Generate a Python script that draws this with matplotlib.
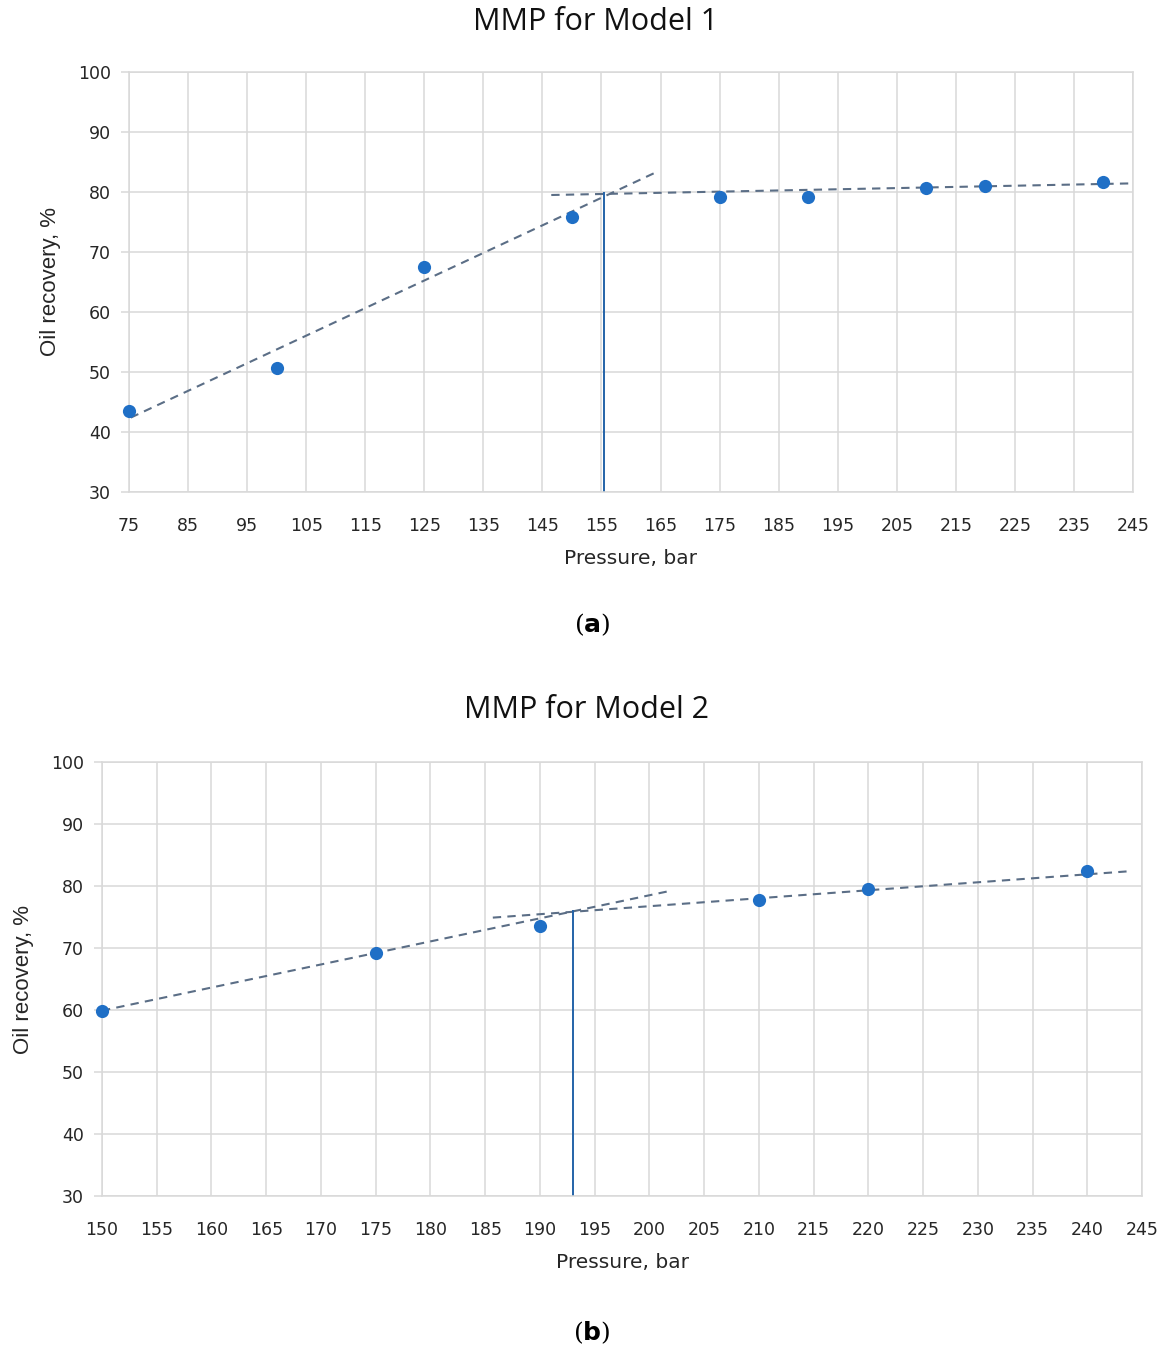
import numpy as np
import matplotlib
matplotlib.use("Agg")
import matplotlib.pyplot as plt

# Model 1: pressure (bar) vs oil recovery (%)
p1 = [75, 100, 125, 150, 175, 190, 210, 220, 240]
rec1 = [43.5, 50.7, 67.5, 75.8, 79.1, 79.1, 80.6, 81.0, 81.7]
# trend lines (end points) and MMP marker for model 1
trend1_lo_x, trend1_lo_y = [75.3, 164.7], [42.4, 83.5]
trend1_hi_x, trend1_hi_y = [146.5, 245.5], [79.5, 81.45]
mmp1, mmp1_rec = 155.5, 79.8

# Model 2
p2 = [150, 175, 190, 210, 220, 240]
rec2 = [59.8, 69.2, 73.5, 77.7, 79.5, 82.4]
trend2_lo_x, trend2_lo_y = [150, 201.6], [59.9, 79.1]
trend2_hi_x, trend2_hi_y = [185.7, 244.0], [74.9, 82.4]
mmp2, mmp2_rec = 193.0, 76.0

W, H = 1163, 1348
GRID = "#d9d9d9"
DOT = "#1f6fc6"
TREND = "#5b6e86"
VLINE = "#2463a8"
TXT = "#262626"


def panel(ax, x, y, lo, hi, mmp, mmp_rec, xticks):
    ax.plot(lo[0], lo[1], ls=(0, (4, 3)), color=TREND, lw=1.5, zorder=2)
    ax.plot(hi[0], hi[1], ls=(0, (4, 3)), color=TREND, lw=1.5, zorder=2)
    ax.plot([mmp, mmp], [30, mmp_rec], color=VLINE, lw=1.4, zorder=2)
    ax.plot(x, y, "o", color=DOT, ms=9.5, mec="none", zorder=3, clip_on=False)

    ax.set_xlim(xticks[0], xticks[-1])
    ax.set_ylim(30, 100)
    ax.set_xticks(xticks)
    ax.set_yticks(range(30, 101, 10))
    ax.grid(True, color=GRID, lw=1.1)
    ax.set_axisbelow(True)
    for s in ax.spines.values():
        s.set_color(GRID)
        s.set_linewidth(1.1)
    ax.tick_params(axis="y", length=6, color=GRID, width=1.1, pad=7,
                   labelsize=12.5, labelcolor=TXT)
    ax.tick_params(axis="x", length=0, pad=18, labelsize=12.5,
                   labelcolor=TXT)
    for lab in ax.get_xticklabels() + ax.get_yticklabels():
        lab.set_family("DejaVu Sans")

    ax.set_xlabel("Pressure, bar", fontsize=14.5, family="DejaVu Sans",
                  color=TXT, labelpad=10)
    ax.set_ylabel("Oil recovery, %", fontsize=16, family="Liberation Sans",
                  color=TXT, labelpad=12)


fig = plt.figure(figsize=(W / 100, H / 100), dpi=100)

ax1 = fig.add_axes([129 / W, 1 - 492 / H, 1004 / W, 420 / H])
panel(ax1, p1, rec1, (trend1_lo_x, trend1_lo_y), (trend1_hi_x, trend1_hi_y),
      mmp1, mmp1_rec, list(range(75, 246, 10)))

ax2 = fig.add_axes([102 / W, 1 - 1196 / H, 1040 / W, 434 / H])
panel(ax2, p2, rec2, (trend2_lo_x, trend2_lo_y), (trend2_hi_x, trend2_hi_y),
      mmp2, mmp2_rec, list(range(150, 246, 5)))

# chart titles sit over the whole figure width
for title, xpix, ypix in [("MMP for Model 1", 596, 22), ("MMP for Model 2", 586, 710)]:
    fig.text(xpix / W, 1 - ypix / H, title, ha="center", va="center",
             fontsize=22, family="Open Sans", color="#111111")

# sub-figure captions
for label, ypix in [("a", 625), ("b", 1333)]:
    fig.text(592 / W, 1 - ypix / H, r"($\mathbf{%s}$)" % label, ha="center",
             va="center", fontsize=18, family="DejaVu Serif")

fig.savefig("out.png", dpi=100)
